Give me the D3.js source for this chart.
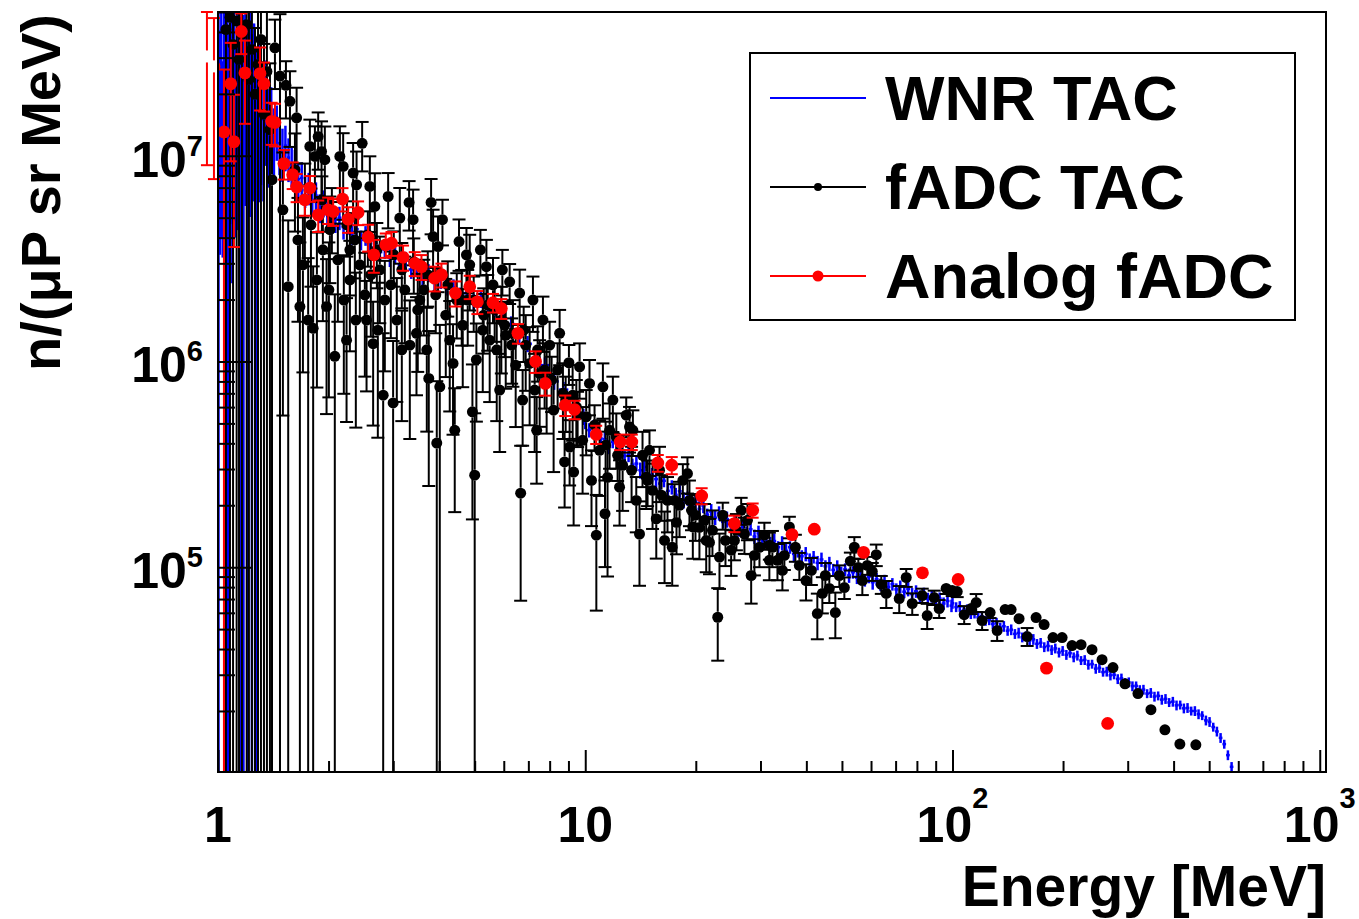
<!DOCTYPE html>
<html>
<head>
<meta charset="utf-8">
<script src="https://cdn.jsdelivr.net/npm/d3@7"></script>
<style>
  body { margin: 0; background: #fff; }
  svg text { font-family: "Liberation Sans", Arial, sans-serif; font-weight: bold; }
</style>
</head>
<body>
<div id="container"></div>
<script>
/* CONSTANTS AND GLOBALS */
const width = 1359;
const height = 919;
const frame = { left: 218, right: 1326, top: 12, bottom: 772 };

/* DATA */
// WNR TAC histogram (blue): bin centre [MeV], flux, relative error
const wnrEnergy = [1.003, 1.012, 1.021, 1.030, 1.040, 1.050, 1.060, 1.071, 1.082, 1.094, 1.106, 1.118, 1.131, 1.144, 1.158,
  1.173, 1.188, 1.204, 1.220, 1.237, 1.254, 1.272, 1.291, 1.310, 1.330, 1.351, 1.373, 1.396, 1.420, 1.445, 1.471, 1.498,
  1.526, 1.556, 1.587,
  1.620, 1.654, 1.690, 1.727, 1.766, 1.806, 1.848, 1.892, 1.938, 1.985, 2.035, 2.087, 2.141, 2.197,
  2.256, 2.318, 2.383, 2.451, 2.522, 2.597, 2.676, 2.759, 2.846, 2.938, 3.035, 3.137, 3.245, 3.359, 3.480, 3.608, 3.744,
  3.888, 4.041, 4.204, 4.377, 4.562, 4.760, 4.971, 5.197, 5.440, 5.701, 5.981, 6.284, 6.611, 6.965, 7.350, 7.769, 8.226,
  8.726, 9.275, 9.880,
  10.0, 10.25, 10.5, 10.76, 11.03, 11.31, 11.59, 11.88, 12.18, 12.48,
  12.8, 13.12, 13.44, 13.78, 14.12, 14.48, 14.84, 15.21, 15.59, 15.98,
  16.38, 16.79, 17.21, 17.64, 18.08, 18.53, 19.0, 19.47, 19.96, 20.46,
  20.97, 21.49, 22.03, 22.58, 23.14, 23.72, 24.31, 24.92, 25.55, 26.18,
  26.84, 27.51, 28.2, 28.9, 29.63, 30.37, 31.13, 31.9, 32.7, 33.52,
  34.36, 35.22, 36.1, 37.0, 37.92, 38.87, 39.84, 40.84, 41.86, 42.91,
  43.98, 45.08, 46.21, 47.36, 48.55, 49.76, 51.0, 52.28, 53.59, 54.93,
  56.3, 57.71, 59.15, 60.63, 62.15, 63.7, 65.3, 66.93, 68.6, 70.32,
  72.08, 73.88, 75.73, 77.62, 79.56, 81.55, 83.59, 85.68, 87.82, 90.02,
  92.27, 94.58, 96.94, 99.37,
  100, 102.3, 104.7, 107.2, 109.6, 112.2, 114.8, 117.5, 120.2, 123.0,
  125.9, 128.8, 131.8, 134.9, 138.0, 141.3, 144.5, 147.9, 151.4, 154.9,
  158.5, 162.2, 166.0, 169.8, 173.8, 177.8, 182.0, 186.2, 190.5, 195.0,
  199.5, 204.2, 208.9, 213.8, 218.8, 223.9, 229.1, 234.4, 239.9, 245.5,
  251.2, 257.0, 263.0, 269.2, 275.4, 281.8, 288.4, 295.1, 302.0, 309.0,
  316.2, 323.6, 331.1, 338.8, 346.7, 354.8, 363.1, 371.5, 380.2, 389.0,
  398.1, 407.4, 416.9, 426.6, 436.5, 446.7, 457.1, 467.7, 478.6, 489.8,
  501.2, 512.9, 524.8, 537.0, 549.5, 562.3, 575.4];
const wnrFlux = [3.0e7, 2.2e7, 4.0e7, 1.6e7, 3.4e7, 2.6e7, 4.4e7, 1.9e7, 3.1e7, 2.4e7, 3.7e7, 2.0e7, 2.9e7, 1.7e7, 3.3e7,
  2.3e7, 3.8e7, 2.1e7, 2.8e7, 1.9e7, 2.5e7, 1.6e7, 2.2e7, 1.8e7, 1.5e7, 1.9e7, 1.4e7, 1.55e7, 1.25e7, 1.35e7, 1.15e7, 1.05e7,
  1.12e7, 9.8e6, 9.0e6,
  8.9e6, 7.7e6, 7.8e6, 6.8e6, 7.0e6, 6.1e6, 6.4e6, 5.6e6, 5.9e6, 5.2e6, 5.4e6, 4.9e6, 5.0e6, 4.5e6,
  4.7e6, 4.2e6, 4.4e6, 3.9e6, 4.1e6, 3.6e6, 3.75e6, 3.4e6, 3.5e6, 3.2e6, 3.3e6, 2.95e6, 3.1e6, 2.8e6, 2.85e6, 2.6e6, 2.7e6,
  2.45e6, 2.5e6, 2.3e6, 2.3e6, 2.1e6, 2.15e6, 1.95e6, 2.0e6, 1.85e6, 1.82e6, 1.62e6, 1.52e6, 1.32e6, 1.22e6, 1.04e6, 9.6e5, 8.0e5,
  7.3e5, 6.1e5, 5.4e5,
  5.15e5, 4.64e5, 4.75e5, 4.72e5, 4.22e5, 4.19e5, 3.85e5, 4.07e5, 3.69e5, 3.75e5,
  3.47e5, 3.56e5, 3.15e5, 3.19e5, 2.96e5, 3.07e5, 2.70e5, 2.81e5, 2.68e5, 2.55e5,
  2.63e5, 2.35e5, 2.45e5, 2.25e5, 2.34e5, 2.12e5, 2.16e5, 1.98e5, 2.08e5, 1.92e5,
  1.99e5, 1.80e5, 1.86e5, 1.74e5, 1.83e5, 1.66e5, 1.71e5, 1.59e5, 1.67e5, 1.53e5,
  1.57e5, 1.46e5, 1.53e5, 1.41e5, 1.46e5, 1.35e5, 1.40e5, 1.30e5, 1.34e5, 1.25e5,
  1.31e5, 1.20e5, 1.25e5, 1.16e5, 1.21e5, 1.13e5, 1.16e5, 1.08e5, 1.12e5, 1.05e5,
  1.09e5, 1.01e5, 1.04e5, 9.7e4, 1.0e5, 9.40e4, 9.75e4, 9.12e4, 9.45e4, 8.90e4,
  9.2e4, 8.65e4, 8.98e4, 8.45e4, 8.74e4, 8.22e4, 8.50e4, 8.01e4, 8.27e4, 7.80e4,
  8.05e4, 7.60e4, 7.84e4, 7.40e4, 7.63e4, 7.20e4, 7.43e4, 7.02e4, 7.23e4, 6.84e4,
  7.04e4, 6.66e4, 6.85e4, 6.50e4,
  6.68e4, 6.40e4, 6.45e4, 6.15e4, 6.22e4, 5.92e4, 5.99e4, 5.70e4, 5.77e4, 5.49e4,
  5.56e4, 5.29e4, 5.35e4, 5.09e4, 5.16e4, 4.91e4, 4.97e4, 4.74e4, 4.79e4, 4.56e4,
  4.62e4, 4.40e4, 4.46e4, 4.24e4, 4.29e4, 4.09e4, 4.14e4, 3.96e4, 4.03e4, 3.85e4,
  3.92e4, 3.75e4, 3.82e4, 3.65e4, 3.72e4, 3.52e4, 3.54e4, 3.36e4, 3.38e4, 3.21e4,
  3.24e4, 3.09e4, 3.11e4, 2.98e4, 3.00e4, 2.86e4, 2.88e4, 2.75e4, 2.76e4, 2.64e4,
  2.65e4, 2.53e4, 2.54e4, 2.43e4, 2.45e4, 2.35e4, 2.37e4, 2.27e4, 2.29e4, 2.20e4,
  2.22e4, 2.13e4, 2.14e4, 2.06e4, 2.07e4, 2.00e4, 2.00e4, 1.93e4, 1.90e4, 1.80e4,
  1.77e4, 1.67e4, 1.59e4, 1.48e4, 1.38e4, 1.22e4, 1.07e4];
const wnrRelErr = [1.2, 0.85, 0.9, 0.8, 0.88, 1.1, 1.05, 1.1, 0.85, 0.9, 0.87, 0.8, 0.85, 1.1, 1.05,
  1.1, 0.85, 1.05, 0.82, 1.05, 0.76, 1.05, 0.73, 0.6, 0.6, 0.53, 0.5, 0.39, 0.36, 0.3, 0.3, 0.29,
  0.25, 0.24, 0.22,
  0.2, 0.2, 0.19, 0.18, 0.18, 0.17, 0.16, 0.16, 0.15, 0.15, 0.14, 0.14, 0.13, 0.13,
  0.12, 0.12, 0.12, 0.11, 0.11, 0.11, 0.10, 0.10, 0.10, 0.10, 0.10, 0.10, 0.10, 0.10, 0.10, 0.10, 0.10,
  0.10, 0.10, 0.09, 0.09, 0.09, 0.09, 0.09, 0.09, 0.09, 0.09, 0.09, 0.09, 0.09, 0.09, 0.09, 0.09, 0.09,
  0.09, 0.09, 0.09,
  0.09, 0.08, 0.09, 0.07, 0.08, 0.09, 0.08, 0.07, 0.09, 0.08,
  0.08, 0.09, 0.07, 0.08, 0.09, 0.08, 0.07, 0.08, 0.09, 0.08,
  0.07, 0.09, 0.08, 0.08, 0.07, 0.09, 0.08, 0.08, 0.07, 0.09,
  0.08, 0.07, 0.09, 0.08, 0.08, 0.07, 0.09, 0.08, 0.07, 0.08,
  0.09, 0.08, 0.07, 0.08, 0.09, 0.07, 0.08, 0.08, 0.09, 0.07,
  0.08, 0.08, 0.07, 0.09, 0.08, 0.07, 0.08, 0.08, 0.07, 0.08,
  0.08, 0.07, 0.08, 0.07, 0.08, 0.07, 0.07, 0.08, 0.07, 0.07,
  0.08, 0.07, 0.07, 0.08, 0.07, 0.07, 0.08, 0.07, 0.07, 0.07,
  0.07, 0.07, 0.08, 0.07, 0.07, 0.07, 0.07, 0.07, 0.07, 0.07,
  0.07, 0.07, 0.07, 0.07,
  0.06, 0.055, 0.06, 0.055, 0.06, 0.055, 0.06, 0.055, 0.06, 0.055,
  0.06, 0.055, 0.06, 0.055, 0.06, 0.055, 0.06, 0.055, 0.06, 0.055,
  0.055, 0.055, 0.06, 0.055, 0.055, 0.055, 0.06, 0.055, 0.055, 0.055,
  0.055, 0.055, 0.05, 0.055, 0.055, 0.05, 0.055, 0.055, 0.05, 0.055,
  0.055, 0.05, 0.055, 0.055, 0.05, 0.055, 0.055, 0.05, 0.055, 0.055,
  0.05, 0.055, 0.055, 0.05, 0.055, 0.055, 0.05, 0.055, 0.055, 0.05,
  0.055, 0.055, 0.05, 0.055, 0.055, 0.05, 0.055, 0.055, 0.05, 0.055,
  0.055, 0.05, 0.055, 0.055, 0.05, 0.055, 0.055];

// fADC TAC (black): energy [MeV], flux, relative error
const tacEnergy = [1.051, 1.078, 1.099, 1.124, 1.141, 1.162, 1.197, 1.214, 1.237, 1.261, 1.285, 1.309, 1.334, 1.359, 1.385,
  1.403, 1.429, 1.475, 1.502, 1.531, 1.553, 1.570, 1.620, 1.637, 1.671, 1.724, 1.760, 1.779, 1.816, 1.836, 1.874, 1.914,
  1.954, 1.975, 2.017, 2.080, 2.147, 2.192, 2.239, 2.286, 2.333, 2.384, 2.469, 2.538, 2.591, 2.645, 2.673, 2.758, 2.817,
  2.906, 2.998, 3.126, 3.166, 3.314, 3.398, 3.471, 3.543, 3.749, 3.804, 3.852, 3.942, 3.974, 4.017, 4.085, 4.365, 4.412,
  4.532, 4.609, 4.748, 4.846, 4.929, 5.000, 5.053, 5.182, 5.381, 5.493, 5.608, 5.848, 5.909, 5.947, 6.225, 6.355, 6.628,
  6.670, 6.753, 7.056, 7.204, 7.374, 7.513, 7.670, 7.998, 8.516, 8.694, 8.786, 9.027, 9.066, 9.297, 9.456, 9.652, 10.06,
  10.27, 10.40, 10.72, 11.17, 11.32, 11.50, 11.89, 12.15, 12.40, 12.93, 13.20, 13.48, 13.77, 14.05, 14.66, 14.96, 15.61,
  15.93, 16.44, 17.25, 17.72, 18.44, 18.98, 19.22, 19.63, 20.46, 21.35, 21.79, 22.95, 23.20, 23.68, 24.96, 25.48, 26.58,
  27.13, 27.65, 28.30, 29.81, 31.72, 32.33, 34.42, 35.96, 37.34, 38.28, 39.92, 42.85, 44.22, 46.19, 47.97, 49.19, 50.76,
  52.71, 54.04, 55.41, 56.82, 58.61, 60.48, 62.01, 63.99, 66.02, 71.61, 74.82, 77.70, 82.72, 85.33, 89.18, 91.99, 96.12,
  99.8, 103.0, 107.6, 112.4, 116.0, 120.4, 126.6, 132.3, 139.1, 144.4, 151.8, 159.7, 168.9, 177.6, 187.8, 198.8, 211.6,
  223.9, 239.8, 255.4, 273.5, 294.9, 319.9, 347.0, 378.8, 416.0, 459.9,
  1.651, 1.703, 1.791, 1.859, 1.930, 2.004, 2.120, 2.201, 2.286, 2.373, 2.433, 2.511, 2.607, 2.724, 2.846,
  2.955, 3.068, 3.226, 3.329, 3.499, 3.634, 3.703, 4.171, 4.276, 4.639, 4.786, 5.259, 5.426, 5.741, 6.074,
  6.465, 6.884, 7.282, 7.850, 8.201, 8.409, 9.239, 9.835, 10.94, 11.65, 12.64, 14.32, 15.25, 16.75, 18.06,
  19.96, 22.20, 24.09, 28.88, 30.74, 33.37, 41.28, 45.06,
  1.918, 2.042, 2.244, 2.358, 2.559, 2.707, 3.011, 3.166, 3.413, 3.726, 3.917, 4.223, 4.468, 4.969, 5.291,
  5.667, 6.033, 6.304, 6.797, 7.419, 7.750, 8.098, 8.844, 9.533, 10.60, 11.36, 12.25, 13.37, 14.78, 16.13,
  17.50, 19.47, 21.12, 25.80, 31.72, 34.85];
const tacFlux = [4.11e7, 4.71e7, 3.48e7, 4.52e7, 2.94e7, 3.89e7, 4.35e7, 2.35e7, 3.29e7, 1.99e7, 2.78e7, 3.68e7, 1.59e7, 2.57e7, 1.34e7,
  7.65e6, 3.35e7, 2.44e7, 5.46e6, 2.20e7, 2.31e6, 1.84e7, 8.56e6, 1.53e7, 1.85e6, 6.11e6, 1.59e6, 1.11e7, 1.45e6, 9.93e6, 1.24e7, 1.05e7,
  9.57e6, 1.85e6, 4.37e6, 1.06e6, 9.93e6, 8.88e6, 1.27e6, 3.49e6, 8.24e6, 7.23e6, 1.15e7, 1.59e6, 7.10e6, 1.22e6, 5.67e6, 2.79e6, 6.86e5,
  6.34e6, 6.29e5, 4.98e6, 1.14e6, 5.93e6, 4.89e6, 1.37e6, 1.99e6, 8.27e5, 5.93e6, 4.05e6, 4.01e5, 3.62e6, 7.53e5, 4.89e6, 9.79e5, 4.63e5,
  3.83e6, 1.99e6, 3.30e6, 2.95e6, 5.69e5, 2.80e5, 1.02e6, 3.49e6, 2.89e6, 1.27e6, 2.36e6, 7.26e5, 1.59e6, 2.79e6, 2.44e6, 1.37e6, 2.15e6,
  2.29e5, 6.49e5, 9.79e5, 1.99e6, 4.63e5, 8.75e5, 1.59e6, 1.20e6, 1.37e6, 7.00e5, 3.25e5, 9.86e5, 3.84e5, 2.90e5, 6.02e5, 9.42e5, 5.38e5,
  7.82e5, 2.64e5, 1.43e5, 7.53e5, 1.82e5, 2.73e5, 6.49e5, 4.30e5, 2.45e5, 5.48e5, 4.81e5, 4.63e5, 2.11e5, 1.45e5, 2.74e5, 3.70e5, 1.72e5,
  2.96e5, 1.35e5, 1.25e5, 1.65e5, 2.64e5, 2.85e5, 2.11e5, 1.57e5, 1.56e5, 1.35e5, 1.32e5, 5.71e4, 1.12e5, 1.79e5, 1.21e5, 1.35e5, 1.89e5,
  1.45e5, 1.69e5, 9.11e4, 1.25e5, 1.08e5, 1.25e5, 9.64e4, 1.57e5, 1.25e5, 1.02e5, 8.61e4, 5.95e4, 7.45e4, 7.88e4, 6.02e4, 9.11e4, 7.96e4,
  1.07e5, 1.25e5, 9.97e4, 8.61e4, 1.02e5, 9.53e4, 1.15e5, 8.24e4, 7.45e4, 7.04e4, 8.91e4, 6.66e4, 7.28e4, 5.82e4, 7.12e4, 6.29e4, 7.88e4,
  7.70e4, 7.61e4, 5.88e4, 6.29e4, 6.73e4, 5.50e4, 6.02e4, 4.92e4, 6.22e4, 6.22e4, 5.62e4, 4.60e4, 5.69e4, 5.26e4, 4.55e4, 4.55e4, 4.16e4,
  4.20e4, 3.97e4, 3.55e4, 3.25e4, 2.71e4, 2.43e4, 2.03e4, 1.62e4, 1.38e4, 1.37e4,
  3.90e6, 2.95e6, 4.62e6, 2.49e6, 3.49e6, 2.23e6, 3.12e6, 1.99e6, 2.49e6, 1.59e6, 2.95e6, 2.11e6, 2.64e6, 1.42e6, 1.99e6,
  2.36e6, 1.59e6, 2.23e6, 1.20e6, 1.78e6, 2.23e6, 1.14e6, 1.68e6, 1.27e6, 1.50e6, 1.99e6, 1.42e6, 1.88e6, 1.14e6, 1.34e6,
  9.60e5, 1.20e6, 7.26e5, 8.11e5, 5.80e5, 9.08e5, 6.86e5, 4.14e5, 3.70e5, 4.63e5, 3.13e5, 3.50e5, 2.36e5, 2.11e5, 2.00e5,
  1.79e5, 1.51e5, 1.35e5, 1.14e5, 1.43e5, 1.08e5, 9.64e4, 9.11e4,
  6.11e6, 5.16e6, 4.62e6, 3.90e6, 4.13e6, 3.49e6, 3.30e6, 2.79e6, 3.05e6, 2.64e6, 2.11e6, 2.36e6, 1.99e6, 1.99e6, 1.68e6,
  1.78e6, 1.50e6, 1.20e6, 1.42e6, 1.14e6, 9.08e5, 8.11e5, 6.49e5, 5.48e5, 4.90e5, 3.92e5, 3.50e5, 2.96e5, 2.64e5, 2.24e5,
  2.11e5, 1.89e5, 1.69e5, 1.51e5, 1.28e5, 1.14e5];
const tacRelErr = [1.2, 1.0, 1.1, 1.0, 1.3, 1.0, 1.0, 1.2, 1.0, 1.1, 1.0, 1.0, 1.2, 1.0, 1.1,
  1.0, 0.37, 1.0, 0.9, 0.31, 1.1, 0.4, 0.5, 0.4, 1.05, 0.5, 1.0, 0.35, 1.0, 0.4, 0.31, 0.4,
  0.45, 0.7, 0.45, 1.0, 0.4, 0.45, 0.6, 0.4, 0.4, 0.45, 0.27, 0.55, 0.4, 0.6, 0.45, 0.45, 1.0,
  0.3, 1.0, 0.4, 0.55, 0.27, 0.4, 0.5, 0.45, 0.7, 0.3, 0.35, 1.0, 0.4, 1.0, 0.25, 0.55, 0.6,
  0.28, 0.4, 0.35, 0.4, 0.7, 1.0, 0.5, 0.25, 0.35, 0.5, 0.35, 0.5, 0.45, 0.25, 0.22, 0.45, 0.3,
  0.7, 0.4, 0.5, 0.3, 0.45, 0.45, 0.3, 0.3, 0.3, 0.4, 0.4, 0.22, 0.35, 0.45, 0.35, 0.3, 0.35,
  0.3, 0.4, 0.57, 0.3, 0.45, 0.67, 0.3, 0.3, 0.35, 0.22, 0.25, 0.25, 0.3, 0.44, 0.3, 0.25, 0.36,
  0.3, 0.38, 0.35, 0.3, 0.2, 0.2, 0.25, 0.3, 0.3, 0.3, 0.3, 0.385, 0.3, 0.15, 0.25, 0.2, 0.15,
  0.2, 0.2, 0.27, 0.2, 0.2, 0.2, 0.2, 0.12, 0.15, 0.15, 0.2, 0.25, 0.2, 0.15, 0.25, 0.12, 0.12,
  0.1, 0.12, 0.1, 0.15, 0.1, 0.1, 0.12, 0.1, 0.15, 0.15, 0.1, 0.12, 0.08, 0.14, 0.08, 0.1, 0.06,
  0.06, 0.06, 0.1, 0.06, 0.1, 0.1, 0.06, 0.11, 0.05, 0.05, 0.05, 0.1, 0.04, 0.04, 0.03, 0.03, 0.02,
  0.02, 0.02, 0.02, 0.02, 0.02, 0.02, 0.02, 0.02, 0.02, 0.02,
  0.6, 0.7, 0.5, 0.7, 0.55, 0.7, 0.5, 0.65, 0.55, 0.7, 0.45, 0.6, 0.5, 0.7, 0.55,
  0.45, 0.6, 0.45, 0.65, 0.5, 0.4, 0.6, 0.5, 0.55, 0.5, 0.4, 0.5, 0.4, 0.55, 0.45,
  0.5, 0.4, 0.5, 0.45, 0.5, 0.35, 0.4, 0.45, 0.4, 0.35, 0.4, 0.3, 0.35, 0.3, 0.3,
  0.25, 0.25, 0.25, 0.2, 0.15, 0.2, 0.15, 0.15,
  0.3, 0.35, 0.3, 0.35, 0.3, 0.35, 0.3, 0.35, 0.3, 0.3, 0.35, 0.3, 0.35, 0.3, 0.35,
  0.3, 0.3, 0.35, 0.3, 0.3, 0.35, 0.3, 0.3, 0.3, 0.25, 0.3, 0.25, 0.3, 0.25, 0.25,
  0.2, 0.2, 0.2, 0.2, 0.15, 0.15];

// Analog fADC (red): energy [MeV], flux, error
const analogEnergy = [0.933, 0.975, 1.038, 1.083, 1.105, 1.157, 1.184, 1.301, 1.334, 1.400, 1.429, 1.512, 1.597, 1.637,
  1.724, 1.779, 1.875, 1.995, 2.059, 2.183, 2.262, 2.407, 2.564, 2.657, 2.863, 2.968, 3.191, 3.434, 3.581, 3.891, 4.059,
  4.431, 4.846, 5.085, 5.607, 5.909, 6.557, 7.325, 7.784, 8.823, 9.352, 10.71, 12.45, 13.39, 15.76, 17.20, 20.75, 25.47,
  28.57, 36.56, 42.04, 57.25, 82.83, 103.6, 180.3, 264.5];
const analogFlux = [3.04e7, 2.72e7, 1.306e7, 2.24e7, 1.17e7, 4.02e7, 2.53e7, 2.51e7, 2.24e7, 1.47e7, 1.45e7, 9.16e6, 8.09e6, 7.05e6,
  6.11e6, 6.97e6, 5.16e6, 5.46e6, 5.36e6, 6.16e6, 4.92e6, 5.30e6, 4.02e6, 3.30e6, 3.69e6, 3.76e6, 3.21e6, 3.00e6, 2.89e6, 2.54e6, 2.64e6,
  2.15e6, 2.31e6, 1.95e6, 1.93e6, 1.81e6, 1.37e6, 1.00e6, 7.82e5, 6.13e5, 5.84e5, 4.42e5, 4.06e5, 4.06e5, 3.21e5, 3.13e5, 2.22e5, 1.63e5,
  1.89e5, 1.44e5, 1.53e5, 1.18e5, 9.39e4, 8.71e4, 3.23e4, 1.74e4];
const analogErr = [2.14e7, 1.95e7, 1.32e7, 1.3e7, 8.1e6, 9e6, 1.1e7, 8.5e6, 6e6, 3.4e6, 3.4e6, 1.5e6, 1.2e6, 1.1e6,
  1.0e6, 1.0e6, 9e5, 8e5, 8e5, 8e5, 7e5, 7e5, 6e5, 6e5, 5e5, 5e5, 4.5e5, 4e5, 4e5, 3.5e5, 3.5e5,
  3e5, 3e5, 2.5e5, 2e5, 2e5, 1.5e5, 1.2e5, 1e5, 7e4, 6e4, 4.5e4, 3.5e4, 3.5e4, 3e4, 3e4, 2e4, 1.5e4,
  1.5e4, 8e3, 8e3, 3e3, 2e3, 2e3, 5e2, 3e2];

// axis labels and legend
const xTickLabels = [{ v: 1, base: "1", exp: "" }, { v: 10, base: "10", exp: "" }, { v: 100, base: "10", exp: "2" }, { v: 1000, base: "10", exp: "3" }];
const yTickLabels = [{ v: 1e5, base: "10", exp: "5" }, { v: 1e6, base: "10", exp: "6" }, { v: 1e7, base: "10", exp: "7" }];
const legendLabels = ["WNR TAC", "fADC TAC", "Analog fADC"];
const legendColors = ["#0000ff", "#000000", "#ff0000"];

/* SCALES */
const x = d3.scaleLog().domain([1, 1040]).range([frame.left, frame.right]);
const y = d3.scaleLog().domain([1.01e4, 5e7]).range([frame.bottom, frame.top]);
const yMin = y.domain()[0];

/* HTML ELEMENTS */
const svg = d3.select("#container")
  .append("svg")
  .attr("width", width)
  .attr("height", height);

svg.append("rect").attr("width", width).attr("height", height).attr("fill", "#fff");

svg.append("clipPath").attr("id", "plotClip")
  .append("rect")
  .attr("x", frame.left).attr("y", frame.top)
  .attr("width", frame.right - frame.left).attr("height", frame.bottom - frame.top);

const plot = svg.append("g").attr("clip-path", "url(#plotClip)");

// helper: vertical error bar with caps, gap around marker (ROOT style)
function errorBar(g, cx, val, err, r, cap, color, width) {
  const cy = y(val);
  const lo = val - err;
  const yTop = Math.max(y(val + err), frame.top);
  const bottomClipped = lo <= yMin;
  const yBot = bottomClipped ? frame.bottom : y(lo);
  if (yTop < cy - r) {
    g.append("line").attr("x1", cx).attr("x2", cx).attr("y1", yTop).attr("y2", cy - r)
      .attr("stroke", color).attr("stroke-width", width);
    g.append("line").attr("x1", cx - cap / 2).attr("x2", cx + cap / 2).attr("y1", yTop).attr("y2", yTop)
      .attr("stroke", color).attr("stroke-width", width);
  }
  if (yBot > cy + r) {
    g.append("line").attr("x1", cx).attr("x2", cx).attr("y1", cy + r).attr("y2", yBot)
      .attr("stroke", color).attr("stroke-width", width);
    if (!bottomClipped) {
      g.append("line").attr("x1", cx - cap / 2).attr("x2", cx + cap / 2).attr("y1", yBot).attr("y2", yBot)
        .attr("stroke", color).attr("stroke-width", width);
    }
  }
}

/* WNR TAC - blue histogram with error crosses */
const wnrData = wnrEnergy.map((e, i) => ({ e, n: wnrFlux[i], err: wnrFlux[i] * wnrRelErr[i] }));
const blue = plot.append("g");
wnrData.forEach((d, i) => {
  const prev = i > 0 ? wnrData[i - 1].e : d.e * d.e / wnrData[i + 1].e;
  const next = i < wnrData.length - 1 ? wnrData[i + 1].e : d.e * d.e / wnrData[i - 1].e;
  const cy = y(d.n);
  blue.append("line")
    .attr("x1", x(Math.sqrt(prev * d.e))).attr("x2", x(Math.sqrt(next * d.e)))
    .attr("y1", cy).attr("y2", cy)
    .attr("stroke", "#0000ff").attr("stroke-width", 2.5);
  const yBot = d.n - d.err <= yMin ? frame.bottom : y(d.n - d.err);
  blue.append("line")
    .attr("x1", x(d.e)).attr("x2", x(d.e)).attr("y1", y(d.n + d.err)).attr("y2", yBot)
    .attr("stroke", "#0000ff").attr("stroke-width", 2.5);
});

/* fADC TAC - black points */
const tacData = tacEnergy.map((e, i) => ({ e, n: tacFlux[i], err: tacFlux[i] * tacRelErr[i] }));
const black = plot.append("g");
tacData.forEach(d => errorBar(black, x(d.e), d.n, d.err, 5.5, 13, "#000", 2));
black.selectAll("circle")
  .data(tacData)
  .join("circle")
  .attr("cx", d => x(d.e))
  .attr("cy", d => y(d.n))
  .attr("r", 5.5)
  .attr("fill", "#000");

/* Analog fADC - red points (bars drawn even left of the frame, as in the original) */
const analogData = analogEnergy.map((e, i) => ({ e, n: analogFlux[i], err: analogErr[i] }));
const redBars = svg.append("g");
analogData.forEach(d => errorBar(redBars, x(d.e), d.n, d.err, 6, 12, "#ff0000", 2));
plot.append("g").selectAll("circle")
  .data(analogData)
  .join("circle")
  .attr("cx", d => x(d.e))
  .attr("cy", d => y(d.n))
  .attr("r", 6.4)
  .attr("fill", "#ff0000");

/* AXES */
const isDecade = v => Math.abs(Math.log10(v) - Math.round(Math.log10(v))) < 1e-6;
const xMinor = x.ticks().filter(v => !isDecade(v));
const xMajor = x.ticks().filter(isDecade);
const yMinor = y.ticks().filter(v => !isDecade(v));
const yMajor = y.ticks().filter(isDecade);

function styleAxis(g) {
  g.select(".domain").remove();
  g.selectAll("line").attr("stroke", "#000").attr("stroke-width", 2);
}

svg.append("g").attr("transform", `translate(0,${frame.bottom})`)
  .call(d3.axisBottom(x).tickValues(xMinor).tickSize(-11).tickFormat(""))
  .call(styleAxis);
svg.append("g").attr("transform", `translate(0,${frame.bottom})`)
  .call(d3.axisBottom(x).tickValues(xMajor).tickSize(-22).tickFormat(""))
  .call(styleAxis);
svg.append("g").attr("transform", `translate(${frame.left},0)`)
  .call(d3.axisLeft(y).tickValues(yMinor).tickSize(-17).tickFormat(""))
  .call(styleAxis);
svg.append("g").attr("transform", `translate(${frame.left},0)`)
  .call(d3.axisLeft(y).tickValues(yMajor).tickSize(-34).tickFormat(""))
  .call(styleAxis);

// frame
svg.append("rect")
  .attr("x", frame.left).attr("y", frame.top)
  .attr("width", frame.right - frame.left).attr("height", frame.bottom - frame.top)
  .attr("fill", "none").attr("stroke", "#000").attr("stroke-width", 2);

// x tick labels
xTickLabels.forEach(t => {
  const txt = svg.append("text")
    .attr("x", x(t.v)).attr("y", 842)
    .attr("text-anchor", "middle")
    .style("font-size", "50px");
  txt.append("tspan").text(t.base);
  if (t.exp) txt.append("tspan").attr("dy", -34).style("font-size", "29px").text(t.exp);
});

// y tick labels
yTickLabels.forEach(t => {
  const txt = svg.append("text")
    .attr("x", 203).attr("y", y(t.v) + 21)
    .attr("text-anchor", "end")
    .style("font-size", "50px");
  txt.append("tspan").text(t.base);
  txt.append("tspan").attr("dy", -21).style("font-size", "29px").text(t.exp);
});

// axis titles
svg.append("text")
  .attr("x", frame.right).attr("y", 906)
  .attr("text-anchor", "end")
  .style("font-size", "57px")
  .text("Energy [MeV]");

svg.append("text")
  .attr("transform", "translate(60,14) rotate(-90)")
  .attr("text-anchor", "end")
  .style("font-size", "56px")
  .text("n/(μP sr MeV)");

/* LEGEND */
const legend = svg.append("g");
legend.append("rect")
  .attr("x", 750).attr("y", 53).attr("width", 545).attr("height", 267)
  .attr("fill", "#fff").attr("stroke", "#000").attr("stroke-width", 2);

const rowY = d3.scalePoint().domain(legendLabels).range([98, 276]);
legendLabels.forEach((label, i) => {
  const cy = rowY(label);
  legend.append("line")
    .attr("x1", 770).attr("x2", 866).attr("y1", cy).attr("y2", cy)
    .attr("stroke", legendColors[i]).attr("stroke-width", 2);
  if (i > 0) {
    legend.append("circle").attr("cx", 818).attr("cy", cy).attr("r", i === 1 ? 4 : 5.5).attr("fill", legendColors[i]);
  }
  legend.append("text")
    .attr("x", 885).attr("y", cy + 22)
    .style("font-size", "63px")
    .text(label);
});
</script>
</body>
</html>
